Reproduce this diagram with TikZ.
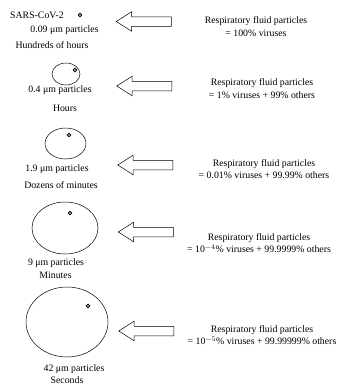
\documentclass[tikz,border=0pt]{standalone}
\usepackage{fontspec}
\setmainfont{Liberation Serif}
\usetikzlibrary{shapes.arrows, positioning}
\tikzset{
	txt/.style={font=\fontsize{9.8}{12.5}\selectfont, inner sep=0pt},
	virus/.style={draw, line width=0.9pt},
	drop/.style={draw, line width=0.5pt},
	outarrow/.style={draw, line width=0.5pt, single arrow, shape border rotate=180,
		minimum height=55pt, minimum width=19pt, single arrow head extend=5pt,
		single arrow tip angle=65, inner xsep=0pt, inner ysep=4.5pt, fill=white}
}
\begin{document}
\begin{tikzpicture}[x=1pt, y=-1pt]
	\useasboundingbox (0,0) rectangle (343,389);
	% row 1
	\node[txt, anchor=west] (name) at (10,15) {SARS-CoV-2};
	\draw[virus] (80,15) circle (1.8pt);
	\node[txt] (d1) at (64.5,30) {0.09 μm particles};
	\node[txt] (t1) at (52,45) {Hundreds of hours};
	\node[outarrow] (a1) at (147.5,21.5) {};
	\node[txt, align=center] (r1) at (256,26.5) {Respiratory fluid particles\\= 100\% viruses};
	% row 2
	\draw[drop] (66,74) ellipse (14pt and 11pt);
	\draw[virus] (75,70) circle (1.8pt);
	\node[txt] (d2) at (60,90) {0.4 μm particles};
	\node[txt] (t2) at (65,108) {Hours};
	\node[outarrow] (a2) at (148,86) {};
	\node[txt, align=center] (r2) at (262,88.5) {Respiratory fluid particles\\= 1\% viruses + 99\% others};
	% row 3
	\draw[drop] (65.5,143.5) ellipse (20.5pt and 15.5pt);
	\draw[virus] (69,135) circle (1.8pt);
	\node[txt] (d3) at (57,169) {1.9 μm particles};
	\node[txt] (t3) at (61,185) {Dozens of minutes};
	\node[outarrow] (a3) at (149,165) {};
	\node[txt, align=center] (r3) at (264,169) {Respiratory fluid particles\\= 0.01\% viruses + 99.99\% others};
	% row 4
	\draw[drop] (65,228) ellipse (33pt and 26pt);
	\draw[virus] (70,213) circle (1.8pt);
	\node[txt] (d4) at (56,263) {9 μm particles};
	\node[txt] (t4) at (55.5,275) {Minutes};
	\node[outarrow] (a4) at (149.5,232) {};
	\node[txt, align=center] (r4) at (259,243) {Respiratory fluid particles\\= 10$^{-4}$\% viruses + 99.9999\% others};
	% row 5
	\draw[drop] (67,322) ellipse (41pt and 35pt);
	\draw[virus] (88,306) circle (1.8pt);
	\node[txt] (d5) at (74,369) {42 μm particles};
	\node[txt] (t5) at (67,380) {Seconds};
	\node[outarrow] (a5) at (150,331) {};
	\node[txt, align=center] (r5) at (262,335) {Respiratory fluid particles\\= 10$^{-5}$\% viruses + 99.99999\% others};
\end{tikzpicture}
\end{document}
